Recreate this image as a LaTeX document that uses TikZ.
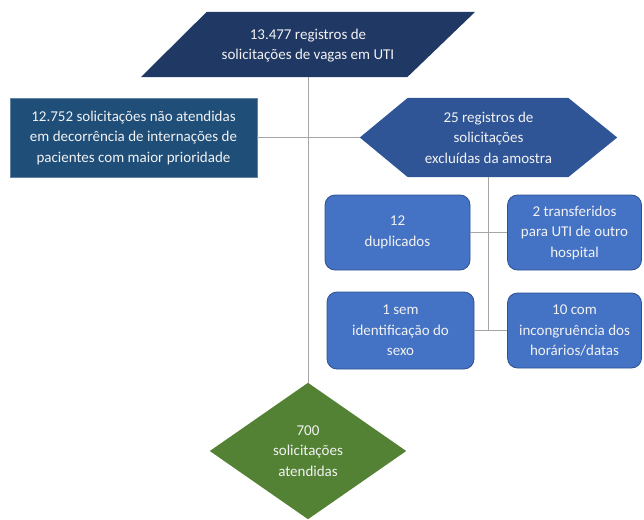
\documentclass[tikz,border=0pt]{standalone}
\usepackage{fontspec}
\setmainfont{Carlito}
\usetikzlibrary{calc}
\definecolor{navy}{HTML}{203864}
\definecolor{steel}{HTML}{1F4E79}
\definecolor{hexblue}{HTML}{2F5597}
\definecolor{boxblue}{HTML}{4472C4}
\definecolor{boxedge}{HTML}{2F528F}
\definecolor{leaf}{HTML}{548235}
\definecolor{wire}{HTML}{A6A6A6}
\definecolor{txt}{HTML}{F2F2F2}
\tikzset{
  lbl/.style={inner sep=0pt, align=center, text=txt, font=\fontsize{15}{20.5}\selectfont},
  rbox/.style={lbl, fill=boxblue, draw=boxedge, line width=0.8pt, rounded corners=10pt},
  wireline/.style={draw=wire, line width=0.8pt}
}
\begin{document}
\begin{tikzpicture}[x=1pt,y=-1pt]
\useasboundingbox (0,0) rectangle (644,519);
% invisible frames carrying the texts
\node[lbl, minimum width=334pt, minimum height=65pt] (top) at (308,44.5) {};
\node[lbl, minimum width=196pt, minimum height=136pt] (dia) at (308,451) {};
\node[lbl, minimum width=257pt, minimum height=79pt] (hex) at (488.5,137.5) {};
% connectors (behind shapes)
\path[wireline] (top.south) -- (dia.north);
\node[lbl, fill=steel, draw=steel!70!white, line width=0.5pt, minimum width=247pt, minimum height=79pt] (left) at (133.5,137.5)
  {12.752 solicitações não atendidas\\em decorrência de internações de\\pacientes com maior prioridade};
\path[wireline] (left.east) -- (hex.west);
% shapes
\fill[navy] (top.south west) -- ($(top.north west)+(66,0)$) -- (top.north east)
  -- ($(top.south east)+(-68,0)$) -- cycle;
\fill[hexblue] (hex.west) -- ($(hex.north west)+(48,0)$) -- ($(hex.north east)+(-49,0)$)
  -- (hex.east) -- ($(hex.south east)+(-49,0)$) -- ($(hex.south west)+(48,0)$) -- cycle;
\fill[leaf] (dia.north) -- (dia.east) -- (dia.south) -- (dia.west) -- cycle;
% texts on top of shapes
\node[lbl] at ($(top.center)+(0,1)$) {13.477 registros de\\solicitações de vagas em UTI};
\node[lbl] at (hex.center) {25 registros de\\solicitações\\excluídas da amostra};
\node[lbl] at (dia.center) {700\\solicitações\\atendidas};
% exclusion boxes
\node[rbox, minimum width=145pt, minimum height=75pt] (b12) at (397.5,232.5) {12\\duplicados};
\node[rbox, minimum width=134pt, minimum height=75pt] (b2) at (574.5,232.5) {2 transferidos\\para UTI de outro\\hospital};
\node[rbox, minimum width=147pt, minimum height=77pt] (b1) at (400.5,330.5) {1 sem\\identificação do\\sexo};
\node[rbox, minimum width=134pt, minimum height=75pt] (b10) at (574.5,330.5) {10 com\\incongruência dos\\horários/datas};
\coordinate (j) at (hex.south |- b1.east);
\path[wireline] (hex.south) -- (j);
\path[wireline] (b12.east) -- (b2.west);
\path[wireline] (b1.east) -- (b10.west);
\end{tikzpicture}
\end{document}
